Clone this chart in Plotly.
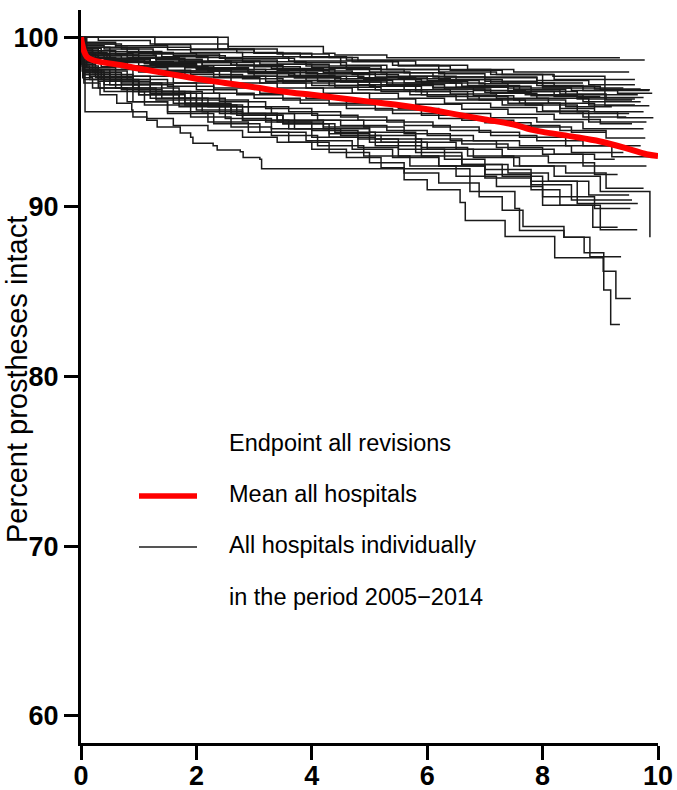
import plotly.graph_objects as go

# ---------------- data ----------------
x_ticks = [0, 2, 4, 6, 8, 10]
y_ticks = [60, 70, 80, 90, 100]

mean_t = [0, 0.02, 0.05, 0.1, 0.2, 0.4, 0.7, 1.0, 1.5, 2.0, 2.5, 3.0, 3.5, 4.0, 4.5,
          5.0, 5.5, 6.0, 6.5, 7.0, 7.5, 7.8, 8.0, 8.5, 9.0, 9.5, 9.8, 10.0]
mean_s = [100, 99.6, 99.2, 98.85, 98.65, 98.5, 98.35, 98.15, 97.85, 97.55, 97.3, 97.05, 96.8, 96.6, 96.4,
          96.2, 96.0, 95.75, 95.45, 95.15, 94.85, 94.55, 94.42, 94.15, 93.85, 93.4, 93.1, 93.0]

hosp_t = [
    [0, 0.3, 1.2, 2.55, 4.2, 4.4, 5.3, 9.34],
    [0, 0.04, 0.6, 1.5, 3.0, 4.0, 4.6, 9.77],
    [0, 2.55, 3.4, 4.3, 4.8, 5.8, 6.7, 7.5, 9.5],
    [0, 0.08, 0.7, 1.25, 2.4, 3.7, 4.6, 5.2, 6.2, 7.2, 8.18, 9.08, 9.85],
    [0, 0.05, 0.4, 1.0, 2.0, 2.8, 3.9, 4.6, 5.6, 6.3, 7.9, 8.8, 9.6],
    [0, 0.03, 0.5, 1.4, 2.2, 3.1, 4.0, 5.0, 5.7, 6.5, 7.3, 8.2, 9.0, 9.86],
    [0, 0.02, 0.3, 0.9, 1.7, 2.6, 3.3, 4.2, 5.1, 6.0, 6.9, 7.4, 8.5, 9.3, 9.9],
    [0, 0.1, 0.6, 1.3, 2.1, 3.0, 3.8, 4.7, 5.5, 6.4, 7.0, 7.8, 8.6, 9.75],
    [0, 0.05, 0.25, 0.8, 1.6, 2.3, 3.2, 4.1, 4.9, 5.9, 6.6, 7.5, 8.3, 9.1, 9.55],
    [0, 0.02, 0.15, 0.7, 1.1, 2.0, 2.9, 3.6, 4.4, 5.3, 6.1, 6.8, 7.7, 8.7, 9.7],
    [0, 1.28, 1.9, 2.7, 3.5, 4.5, 5.4, 6.2, 7.1, 8.0, 9.4],
    [0, 0.03, 0.35, 1.0, 1.8, 2.7, 3.4, 4.3, 5.0, 5.8, 6.7, 7.6, 8.4, 9.65],
    [0, 0.06, 0.5, 1.2, 2.0, 2.9, 3.7, 4.4, 5.2, 5.9, 6.8, 7.5, 8.4, 9.2],
    [0, 0.03, 0.2, 0.6, 1.3, 2.2, 3.0, 3.9, 4.8, 5.6, 6.4, 7.2, 8.1, 8.9, 9.75],
    [0, 0.02, 0.12, 0.5, 1.1, 1.9, 2.8, 3.5, 4.4, 5.2, 6.0, 6.9, 7.7, 8.6, 9.3, 9.92],
    [0, 0.05, 0.4, 1.1, 1.8, 2.6, 3.4, 4.1, 5.0, 5.8, 6.7, 7.4, 8.3, 9.5],
    [0, 0.04, 0.3, 0.8, 1.5, 2.4, 3.2, 4.0, 4.8, 5.7, 6.5, 7.3, 8.0, 8.8, 9.8],
    [0, 0.03, 0.25, 0.9, 1.6, 2.3, 3.1, 3.9, 4.6, 5.5, 6.2, 7.1, 7.9, 8.7, 9.75],
    [0, 0.02, 0.1, 0.6, 1.2, 2.0, 2.7, 3.5, 4.3, 5.1, 5.9, 6.6, 7.5, 8.3, 9.1, 9.78],
    [0, 0.02, 0.2, 0.7, 1.4, 2.1, 2.9, 3.6, 4.5, 5.3, 6.1, 6.9, 7.6, 8.4, 9.2, 9.95],
    [0, 0.05, 0.3, 0.9, 1.7, 2.5, 3.3, 4.1, 4.9, 5.6, 6.4, 7.2, 8.0, 8.7, 9.8],
    [0, 0.03, 0.4, 1.0, 1.8, 2.6, 3.4, 4.2, 5.0, 5.8, 6.5, 7.3, 8.1, 8.9, 9.3],
    [0, 0.02, 0.15, 0.6, 1.3, 2.1, 2.8, 3.7, 4.5, 5.2, 6.0, 6.8, 7.6, 8.4, 9.1, 9.75],
    [0, 0.04, 0.35, 1.0, 1.9, 2.7, 3.5, 4.4, 5.1, 5.9, 6.7, 7.5, 8.2, 9.0, 9.86],
    [0, 0.05, 0.5, 1.2, 2.0, 2.8, 3.6, 4.3, 5.1, 5.9, 6.6, 7.4, 8.1, 8.8, 9.5],
    [0, 0.03, 0.2, 0.8, 1.5, 2.3, 3.1, 3.9, 4.7, 5.4, 6.2, 7.0, 7.8, 8.5, 9.55],
    [0, 0.02, 0.25, 0.9, 1.6, 2.4, 3.2, 4.0, 4.8, 5.5, 6.3, 7.0, 7.8, 8.6, 9.65],
    [0, 0.05, 0.4, 1.1, 1.9, 2.6, 3.3, 4.1, 4.9, 5.7, 6.5, 7.2, 8.0, 8.9, 9.52],
    [0, 0.03, 0.3, 1.0, 1.7, 2.5, 3.3, 4.0, 4.8, 5.5, 6.2, 7.0, 7.8, 8.3, 8.87, 9.3],
    [0, 0.04, 0.5, 1.2, 2.0, 2.8, 3.5, 4.3, 5.0, 5.8, 6.6, 7.3, 8.0, 9.0, 9.64],
    [0, 0.04, 0.3, 0.9, 1.5, 2.2, 2.9, 3.6, 4.3, 5.0, 5.6, 6.2, 6.9, 7.3, 7.66, 8.37, 8.82, 9.36],
    [0, 0.07, 1.14, 1.6, 2.2, 2.8, 3.4, 4.0, 4.6, 5.2, 5.6, 6.0, 6.57, 6.66, 7.35, 8.21, 9.05, 9.27, 9.53],
    [0, 0.05, 0.33, 0.62, 0.88, 0.9, 1.14, 1.32, 1.72, 1.9, 1.94, 2.29, 2.36, 2.76, 2.81, 3.1, 3.13,
     6.74, 7.52, 7.6, 8.37, 8.72, 9.06, 9.18, 9.34],
    [0, 0.04, 0.45, 1.2, 2.1, 2.9, 3.8, 4.6, 5.4, 6.3, 7.1, 7.9, 8.8, 9.6],
    [0, 0.02, 0.2, 0.7, 1.5, 2.3, 3.1, 3.9, 4.7, 5.5, 6.3, 7.1, 7.9, 8.7, 9.45],
    [0, 0.03, 0.3, 0.9, 1.6, 2.4, 3.2, 4.0, 4.8, 5.6, 6.4, 7.1, 7.9, 8.7, 9.7],
    [0, 0.02, 0.15, 0.7, 1.4, 2.2, 2.9, 3.7, 4.5, 5.3, 6.0, 6.8, 7.6, 8.5, 9.4],
    [0, 0.06, 0.8, 1.6, 2.5, 3.4, 4.3, 5.2, 6.1, 7.0, 7.9, 8.7, 9.85],
    [0, 2.37, 3.0, 3.8, 4.7, 5.5, 6.4, 7.3, 8.2, 9.6],
    [0, 0.03, 0.5, 1.3, 2.1, 3.0, 3.9, 4.8, 5.6, 6.5, 7.4, 8.2, 9.0],
    [0, 0.04, 0.3, 1.0, 1.8, 2.6, 3.4, 4.3, 5.1, 5.9, 6.7, 7.6, 8.3, 8.9],
    [0, 0.02, 0.2, 0.8, 1.5, 2.3, 3.0, 3.8, 4.6, 5.4, 6.2, 7.0, 7.8, 8.5, 9.1],
    [0, 0.05, 0.4, 1.0, 1.8, 2.6, 3.4, 4.2, 5.0, 5.8, 6.6, 7.4, 8.2, 8.9, 9.25],
    [0, 0.02, 0.6, 1.9, 2.8, 3.6, 4.5, 5.3, 6.2, 7.0, 7.9, 8.7, 9.6],
    [0, 0.02, 0.2, 0.8, 1.7, 2.6, 3.5, 4.4, 5.3, 6.2, 7.1, 8.0, 8.9, 9.7],
    [0, 0.05, 0.5, 1.2, 2.0, 2.9, 3.7, 4.5, 5.3, 6.1, 7.0, 7.8, 8.6, 9.6],
    [0, 0.03, 0.35, 1.0, 1.8, 2.6, 3.4, 4.2, 5.0, 5.8, 6.6, 7.4, 8.2, 9.0, 9.55],
]

hosp_s = [
    [100, 99.8, 99.6, 99.45, 99.05, 98.95, 98.78, 98.78],
    [100, 99.7, 99.5, 99.25, 99.05, 98.85, 98.65, 98.65],
    [100, 99.3, 99.0, 98.8, 98.6, 98.35, 98.1, 97.95, 97.95],
    [100, 99.6, 99.3, 99.0, 98.75, 98.5, 98.3, 98.1, 97.95, 97.8, 97.7, 95.95, 95.95],
    [100, 99.5, 99.3, 99.05, 98.8, 98.55, 98.3, 98.1, 97.9, 97.65, 97.45, 97.2, 97.2],
    [100, 99.4, 99.15, 98.85, 98.6, 98.4, 98.2, 97.95, 97.7, 97.5, 97.3, 97.1, 96.9, 96.9],
    [100, 99.3, 99.05, 98.8, 98.6, 98.35, 98.15, 97.9, 97.65, 97.45, 97.25, 97.0, 96.85, 96.7, 96.7],
    [100, 99.2, 98.95, 98.7, 98.5, 98.25, 98.0, 97.8, 97.55, 97.3, 97.1, 96.8, 96.45, 96.45],
    [100, 99.0, 98.75, 98.55, 98.3, 98.1, 97.9, 97.7, 97.5, 97.3, 97.1, 96.9, 96.65, 96.3, 96.3],
    [100, 99.1, 98.9, 98.6, 98.45, 98.2, 97.95, 97.75, 97.55, 97.3, 97.05, 96.85, 96.6, 96.2, 96.2],
    [100, 99.55, 99.3, 99.1, 98.85, 98.6, 98.35, 98.1, 97.8, 97.0, 97.0],
    [100, 99.35, 99.0, 98.75, 98.5, 98.3, 98.05, 97.85, 97.6, 97.4, 97.15, 96.9, 96.6, 96.6],
    [100, 99.0, 98.7, 98.4, 98.15, 97.9, 97.6, 97.35, 97.1, 96.8, 96.55, 96.3, 95.9, 95.9],
    [100, 99.2, 98.8, 98.5, 98.25, 98.0, 97.7, 97.45, 97.2, 96.9, 96.65, 96.4, 96.1, 95.6, 95.6],
    [100, 99.0, 98.6, 98.3, 98.05, 97.8, 97.55, 97.3, 97.05, 96.8, 96.5, 96.3, 96.0, 95.6, 95.25, 95.25],
    [100, 99.1, 98.7, 98.45, 98.2, 97.95, 97.65, 97.4, 97.1, 96.8, 96.5, 96.1, 95.5, 95.5],
    [100, 98.9, 98.6, 98.3, 98.0, 97.7, 97.4, 97.15, 96.9, 96.6, 96.3, 96.0, 95.65, 95.0, 95.0],
    [100, 98.5, 98.1, 97.7, 97.3, 97.0, 96.7, 96.4, 96.1, 95.8, 95.5, 95.25, 95.0, 94.6, 94.6],
    [100, 98.7, 98.2, 97.7, 97.3, 96.9, 96.6, 96.3, 96.0, 95.7, 95.4, 95.1, 94.8, 94.5, 94.05, 94.05],
    [100, 98.4, 97.9, 97.3, 96.8, 96.3, 95.9, 95.6, 95.3, 95.0, 94.7, 94.4, 94.1, 93.6, 92.95, 92.95],
    [100, 98.2, 97.6, 97.0, 96.4, 95.9, 95.5, 95.1, 94.7, 94.3, 93.9, 93.5, 93.1, 92.4, 92.4],
    [100, 98.0, 97.4, 96.8, 96.1, 95.5, 95.0, 94.6, 94.2, 93.8, 93.4, 93.0, 92.6, 91.9, 91.9],
    [100, 98.3, 97.7, 97.0, 96.3, 95.6, 95.1, 94.6, 94.2, 93.8, 93.4, 92.9, 92.4, 92.0, 91.1, 91.1],
    [100, 98.1, 97.5, 96.8, 96.0, 95.4, 94.9, 94.4, 94.0, 93.5, 93.0, 92.4, 91.8, 90.9, 88.2],
    [100, 97.9, 97.2, 96.4, 95.7, 95.1, 94.6, 94.1, 93.6, 93.0, 92.5, 92.0, 91.5, 90.7, 90.7],
    [100, 97.6, 97.0, 96.2, 95.5, 94.9, 94.4, 93.9, 93.4, 92.9, 92.4, 91.9, 91.3, 90.4, 90.4],
    [100, 98.4, 97.6, 96.8, 96.1, 95.5, 95.0, 94.5, 94.0, 93.4, 92.8, 92.2, 91.5, 90.2, 90.2],
    [100, 97.5, 96.8, 96.0, 95.3, 94.7, 94.2, 93.6, 93.0, 92.4, 91.8, 91.2, 90.6, 89.9, 89.9],
    [100, 98.0, 97.4, 96.6, 95.9, 95.2, 94.6, 94.1, 93.5, 93.0, 92.4, 91.7, 91.0, 90.1, 88.8, 88.8],
    [100, 98.1, 97.4, 96.7, 96.0, 95.4, 94.9, 94.3, 93.8, 93.2, 92.5, 91.8, 90.1, 88.65, 88.65],
    [100, 97.8, 97.0, 96.2, 95.6, 95.0, 94.4, 93.8, 93.2, 92.6, 92.0, 91.4, 90.6, 89.8, 88.84, 88.2, 87.06, 87.06],
    [100, 95.6, 95.2, 94.8, 94.5, 94.1, 93.8, 93.4, 92.9, 92.3, 91.6, 91.0, 90.25, 89.2, 88.25, 87.0, 86.2, 84.6, 84.6],
    [100, 97.3, 96.6, 96.1, 95.7, 95.3, 95.1, 94.7, 94.35, 94.1, 93.75, 93.6, 93.35, 93.25, 92.9, 92.8, 92.25,
     90.9, 89.9, 88.6, 88.2, 87.3, 85.1, 83.06, 83.06],
    [100, 99.1, 98.75, 98.5, 98.2, 97.95, 97.7, 97.45, 97.2, 96.95, 96.7, 96.4, 96.0, 96.0],
    [100, 98.9, 98.5, 98.2, 97.9, 97.6, 97.3, 97.0, 96.7, 96.4, 96.1, 95.85, 95.6, 95.3, 95.3],
    [100, 98.3, 97.8, 97.2, 96.7, 96.2, 95.8, 95.4, 95.1, 94.8, 94.5, 94.2, 93.9, 93.6, 93.6],
    [100, 98.0, 97.5, 96.9, 96.4, 95.9, 95.5, 95.1, 94.8, 94.5, 94.2, 93.9, 93.6, 93.2, 93.2],
    [100, 99.4, 99.1, 98.9, 98.65, 98.4, 98.15, 97.9, 97.65, 97.4, 97.15, 96.85, 96.85],
    [100, 99.3, 99.05, 98.8, 98.55, 98.3, 98.05, 97.8, 97.5, 97.5],
    [100, 99.2, 98.9, 98.6, 98.35, 98.1, 97.85, 97.6, 97.3, 97.05, 96.8, 96.5, 96.5],
    [100, 98.95, 98.6, 98.3, 98.0, 97.7, 97.45, 97.15, 96.9, 96.6, 96.35, 96.1, 95.8, 95.8],
    [100, 98.5, 98.0, 97.5, 97.1, 96.7, 96.4, 96.1, 95.8, 95.5, 95.2, 94.95, 94.7, 94.4, 94.4],
    [100, 97.8, 97.2, 96.6, 96.0, 95.5, 95.1, 94.7, 94.4, 94.0, 93.7, 93.4, 93.1, 92.8, 92.8],
    [100, 99.6, 99.4, 99.1, 98.85, 98.6, 98.35, 98.1, 97.85, 97.6, 97.3, 97.3],
    [100, 99.3, 99.0, 98.8, 98.55, 98.35, 98.1, 97.9, 97.7, 97.5, 97.3, 97.1, 96.95, 96.95],
    [100, 98.9, 98.6, 98.35, 98.1, 97.85, 97.6, 97.35, 97.15, 96.95, 96.75, 96.55, 96.35, 96.35],
    [100, 98.6, 98.25, 97.95, 97.65, 97.3, 97.0, 96.7, 96.35, 96.05, 95.75, 95.45, 95.15, 94.9, 94.9],
]

legend_title = "Endpoint all revisions"
legend_mean = "Mean all hospitals"
legend_hosp = "All hospitals individually"
legend_hosp2 = "in the period 2005\u22122014"
y_title = "Percent prostheses intact"

# ---------------- figure ----------------
fig = go.Figure()
for t, s in zip(hosp_t, hosp_s):
    fig.add_trace(go.Scatter(x=t, y=s, mode="lines",
                             line=dict(shape="hv", color="#1a1a1a", width=1.5),
                             showlegend=False, hoverinfo="skip"))

fig.add_trace(go.Scatter(x=mean_t, y=mean_s, mode="lines",
                         line=dict(shape="spline", color="#ff0000", width=6),
                         showlegend=False, hoverinfo="skip"))

L, R, T, B = 81, 19, 10, 47
W, H = 677, 790
pw, ph = W - L - R, H - T - B

def px(xp):
    return (xp - L) / pw

def py(yp):
    return (H - B - yp) / ph

txt_font = dict(family="Liberation Sans, Arial, sans-serif", size=23.5, color="black")
for label, ycen in [(legend_title, 443), (legend_mean, 494), (legend_hosp, 545), (legend_hosp2, 597)]:
    fig.add_annotation(x=px(227), y=py(ycen), xref="paper", yref="paper", text=label,
                       showarrow=False, xanchor="left", yanchor="middle", font=txt_font)

fig.add_shape(type="line", xref="paper", yref="paper", x0=px(139), x1=px(197), y0=py(496), y1=py(496),
              line=dict(color="#ff0000", width=5.5))
fig.add_shape(type="line", xref="paper", yref="paper", x0=px(139), x1=px(197), y0=py(547), y1=py(547),
              line=dict(color="#555555", width=1.8))

fig.add_annotation(x=px(17), y=py(380), xref="paper", yref="paper", text=y_title, textangle=-90,
                   showarrow=False, xanchor="center", yanchor="middle",
                   font=dict(family="Liberation Sans, Arial, sans-serif", size=29, color="black"))

tick_font = dict(family="Liberation Sans, Arial, sans-serif", size=27, color="black", weight="bold")
fig.update_xaxes(range=[0, 10], tickvals=x_ticks, ticktext=[str(v) for v in x_ticks],
                 showline=True, linewidth=3, linecolor="black", ticks="outside", ticklen=14,
                 tickwidth=3, tickcolor="black", showgrid=False, zeroline=False, tickfont=tick_font,
                 automargin=False, ticklabelstandoff=-7)
fig.update_yaxes(range=[58.4, 101.6], tickvals=y_ticks, ticktext=[str(v) for v in y_ticks],
                 showline=True, linewidth=3, linecolor="black", ticks="outside", ticklen=14,
                 tickwidth=3, tickcolor="black", showgrid=False, zeroline=False, tickfont=tick_font,
                 automargin=False)

fig.update_layout(width=W, height=H, margin=dict(l=L, r=R, t=T, b=B, pad=0, autoexpand=False),
                  plot_bgcolor="white", paper_bgcolor="white", showlegend=False)

fig.write_html("out.html")
